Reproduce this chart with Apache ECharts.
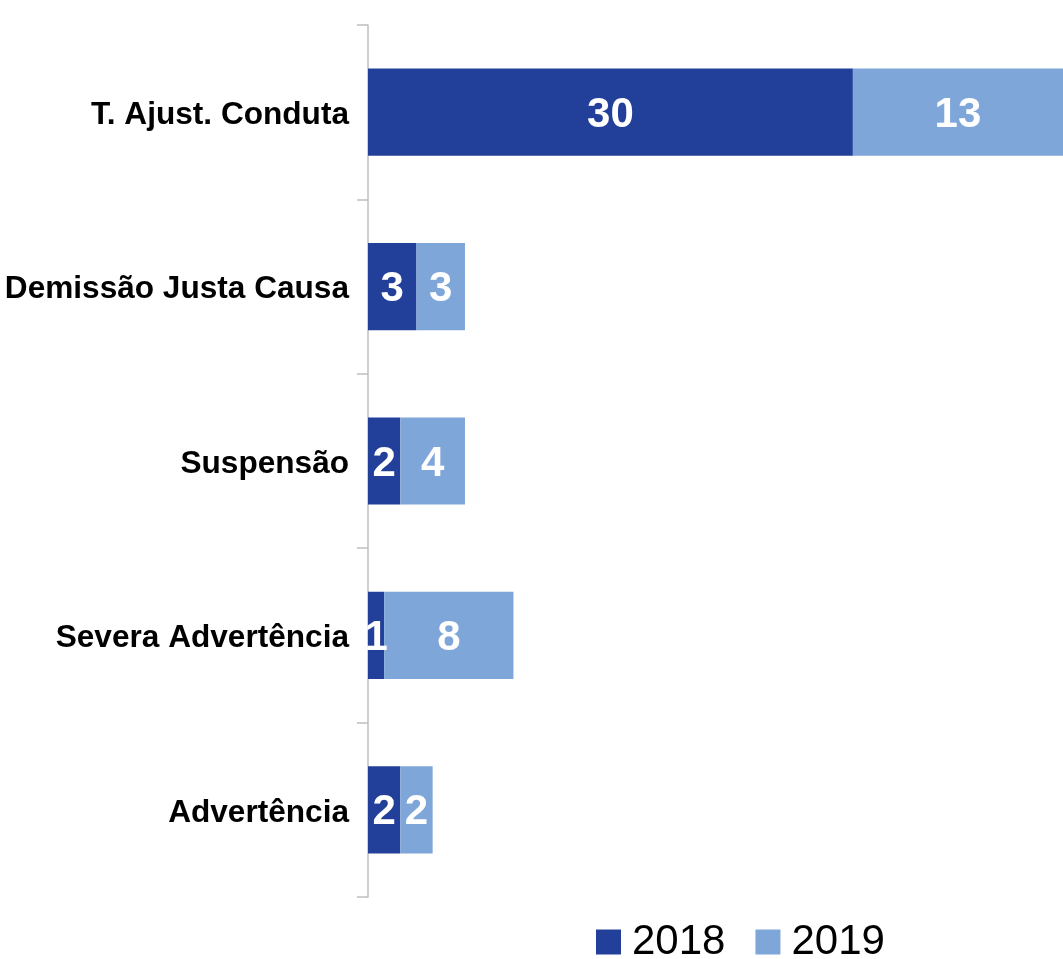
<!DOCTYPE html>
<html>
<head>
<meta charset="utf-8">
<script src="https://cdn.jsdelivr.net/npm/echarts@6/dist/echarts.min.js"></script>
<style>html,body{margin:0;padding:0;background:#fff}#c{width:1063px;height:959px}</style>
</head>
<body>
<div id="c"></div>
<script>
const categories = ['T. Ajust. Conduta', 'Demissão Justa Causa', 'Suspensão', 'Severa Advertência', 'Advertência'];
const seriesNames = ['2018', '2019'];
const values2018 = [30, 3, 2, 1, 2];
const values2019 = [13, 3, 4, 8, 2];

const chart = echarts.init(document.getElementById('c'));
const labelStyle = {show: true, position: 'inside', offset: [0, 3], color: '#fff', fontFamily: 'Liberation Sans, Arial, sans-serif', fontWeight: 'bold', fontSize: 42};
chart.setOption({
  animation: false,
  grid: {left: 368, right: 0, top: 25, bottom: 62, containLabel: false},
  legend: {
    data: seriesNames, left: 596, top: 921, padding: 0,
    itemWidth: 25, itemHeight: 25, itemGap: 30, icon: 'rect',
    textStyle: {fontFamily: 'Liberation Sans, Arial, sans-serif', fontSize: 42, color: '#000', padding: [0, 0, 0, 6]}
  },
  xAxis: {type: 'value', min: 0, max: 43, show: false},
  yAxis: {
    type: 'category', data: categories, inverse: true,
    axisLine: {show: true, lineStyle: {color: '#bfbfbf', width: 1.5}},
    axisTick: {show: true, length: 11, lineStyle: {color: '#bfbfbf', width: 1.5}},
    axisLabel: {
      margin: 19, formatter: '{a|{value}}',
      rich: {a: {padding: [6, 0, 0, 0], color: '#000', fontFamily: 'Liberation Sans, Arial, sans-serif', fontWeight: 'bold', fontSize: 31.6}}
    }
  },
  series: [
    {name: seriesNames[0], type: 'bar', stack: 's', data: values2018, barWidth: '50%', itemStyle: {color: '#22409A'}, label: labelStyle},
    {name: seriesNames[1], type: 'bar', stack: 's', data: values2019, barWidth: '50%', itemStyle: {color: '#7EA6D8'}, label: labelStyle}
  ]
});
</script>
</body>
</html>
